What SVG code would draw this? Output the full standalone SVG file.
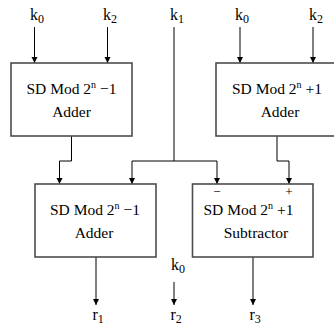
<svg xmlns="http://www.w3.org/2000/svg" width="334" height="329" viewBox="0 0 334 329">
  <style>
    .box { fill: #ffffff; stroke: #4d4d4d; stroke-width: 1.6; }
    .wire { fill: none; stroke: #000000; stroke-width: 1; }
    .arrow { marker-end: url(#head); }
    text { font-family: "Liberation Serif", "Times New Roman", serif; fill: #000000; }
    .lbl { font-size: 16px; }
    .sub { font-size: 12px; }
    .body { font-size: 15.5px; text-anchor: middle; }
    .sup { font-size: 10px; }
    .sign { font-size: 13px; text-anchor: middle; }
  </style>
  <defs>
    <marker id="head" markerUnits="userSpaceOnUse" markerWidth="6" markerHeight="8" refX="6" refY="3" orient="auto">
      <path d="M0,0 L6,3 L0,6 Z" fill="#000000"/>
    </marker>
  </defs>

  <rect width="334" height="329" fill="#ffffff"/>

  <!-- wires between inputs, blocks and outputs -->
  <g id="connectors">
    <line class="wire arrow" x1="34.5" y1="27" x2="34.5" y2="63"/>
    <line class="wire arrow" x1="107.5" y1="27" x2="107.5" y2="63"/>
    <line class="wire arrow" x1="240" y1="27" x2="240" y2="63"/>
    <line class="wire arrow" x1="313" y1="27" x2="313" y2="63"/>
    <line class="wire" x1="174" y1="27" x2="174" y2="161"/>
    <path class="wire arrow" d="M132,161 H217 V184"/>
    <line class="wire arrow" x1="132" y1="161" x2="132" y2="184"/>
    <path class="wire arrow" d="M71.5,136 V161 H59.5 V184"/>
    <path class="wire arrow" d="M277,136 V161 H289 V184"/>
    <line class="wire arrow" x1="96" y1="257" x2="96" y2="305"/>
    <line class="wire arrow" x1="253" y1="257" x2="253" y2="305"/>
    <line class="wire arrow" x1="174" y1="282" x2="174" y2="305"/>
  </g>

  <!-- input labels -->
  <g id="inputs">
    <text class="lbl" x="30" y="20">k<tspan class="sub" dy="3">0</tspan></text>
    <text class="lbl" x="103" y="20">k<tspan class="sub" dy="3">2</tspan></text>
    <text class="lbl" x="170" y="20">k<tspan class="sub" dy="3">1</tspan></text>
    <text class="lbl" x="235" y="20">k<tspan class="sub" dy="3">0</tspan></text>
    <text class="lbl" x="309" y="20">k<tspan class="sub" dy="3">2</tspan></text>
    <text class="lbl" x="171" y="270">k<tspan class="sub" dy="3">0</tspan></text>
  </g>

  <g id="adder-minus-top">
    <rect class="box" x="11" y="63" width="121" height="73"/>
    <text class="body" x="71.5" y="94">SD Mod 2<tspan class="sup" dy="-6">n</tspan><tspan dy="6"> −1</tspan></text>
    <text class="body" x="71.5" y="117">Adder</text>
  </g>

  <g id="adder-plus-top">
    <rect class="box" x="216" y="63" width="124" height="73"/>
    <text class="body" x="277" y="94">SD Mod 2<tspan class="sup" dy="-6">n</tspan><tspan dy="6"> +1</tspan></text>
    <text class="body" x="280" y="117">Adder</text>
  </g>

  <g id="adder-minus-bottom">
    <rect class="box" x="35" y="184" width="121" height="73"/>
    <text class="body" x="95" y="215">SD Mod 2<tspan class="sup" dy="-6">n</tspan><tspan dy="6"> −1</tspan></text>
    <text class="body" x="94" y="238">Adder</text>
  </g>

  <g id="subtractor">
    <rect class="box" x="192.5" y="184" width="120.5" height="73"/>
    <text class="sign" x="217" y="196">−</text>
    <text class="sign" x="289" y="196">+</text>
    <text class="body" x="248.5" y="215">SD Mod 2<tspan class="sup" dy="-6">n</tspan><tspan dy="6"> +1</tspan></text>
    <text class="body" x="256" y="238">Subtractor</text>
  </g>

  <!-- output labels -->
  <g id="outputs">
    <text class="lbl" x="92.5" y="320">r<tspan class="sub" dy="3">1</tspan></text>
    <text class="lbl" x="170.5" y="320">r<tspan class="sub" dy="3">2</tspan></text>
    <text class="lbl" x="249.5" y="320">r<tspan class="sub" dy="3">3</tspan></text>
  </g>
</svg>
